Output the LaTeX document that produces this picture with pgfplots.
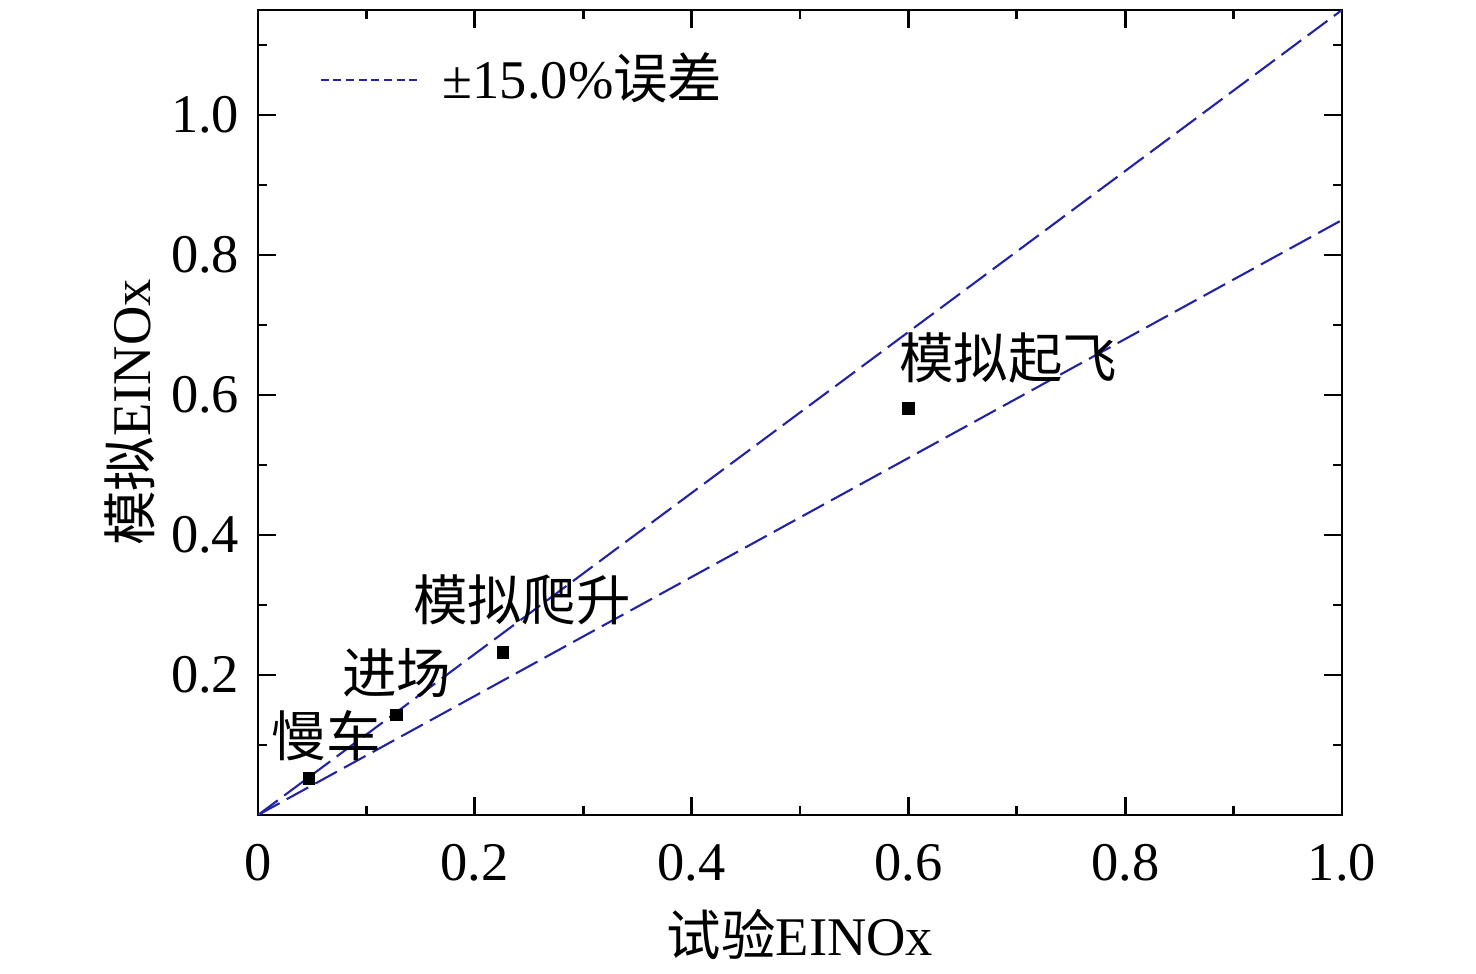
\documentclass[border=0pt]{standalone}
\usepackage{fontspec}
\setmainfont{Liberation Serif}
\newfontfamily\cjk{Noto Sans CJK SC}
\usepackage{pgfplots}
\pgfplotsset{compat=1.18}
\definecolor{lineblue}{RGB}{35,35,165}
\begin{document}
\fontsize{15.5}{18}\selectfont
\begin{tikzpicture}
\path[use as bounding box] (-2.58cm,-1.59cm) rectangle (12.18cm,8.15cm);
\begin{axis}[
  scale only axis,
  width=10.84cm, height=8.05cm,
  xmin=0, xmax=1, ymin=0, ymax=1.15,
  xtick={0,0.2,0.4,0.6,0.8,1.0},
  xticklabels={0,0.2,0.4,0.6,0.8,1.0},
  ytick={0.2,0.4,0.6,0.8,1.0},
  yticklabels={0.2,0.4,0.6,0.8,1.0},
  minor xtick={0.1,0.3,0.5,0.7,0.9},
  minor ytick={0.1,0.3,0.5,0.7,0.9,1.1},
  tick align=inside,
  major tick length=0.18cm,
  minor tick length=0.09cm,
  tick style={black, line width=0.8pt},
  axis line style={line width=0.8pt},
  ticklabel style={font=\fontsize{15.5}{18}\selectfont},
  xticklabel style={yshift=-0.1cm},
  xlabel={{\cjk 试验}EINOx},
  ylabel={{\cjk 模拟}EINOx},
  label style={font=\fontsize{15.5}{18}\selectfont},
  xlabel style={at={(axis description cs:0.5,-0.149)}, anchor=center},
  ylabel style={at={(axis description cs:-0.118,0.5)}, anchor=center},
  legend style={at={(axis description cs:0.0465,0.965)}, anchor=north west, draw=none, fill=white, font=\fontsize{15.5}{18}\selectfont},
  legend image code/.code={\draw[#1, dash pattern=on 2.3pt off 1.3pt] (0cm,0cm) -- (1.0cm,0cm); \path (1.14cm,0cm);},
  clip=true,
]
\addplot[lineblue, line width=0.6pt, dash pattern=on 7pt off 2.3pt] coordinates {(0,0) (1,1.15)};
\addlegendentry{±15.0\%{\cjk 误差}}
\addplot[lineblue, line width=0.6pt, dash pattern=on 7pt off 2.3pt, forget plot] coordinates {(0,0) (1,0.85)};
\addplot[only marks, mark=square*, mark size=1.6pt, black, forget plot] coordinates {
(0.047,0.052) (0.128,0.143) (0.226,0.232) (0.600,0.581)};
\node[font=\cjk\fontsize{15.5}{18}\selectfont] at (axis cs:0.063,0.114) {慢车};
\node[font=\cjk\fontsize{15.5}{18}\selectfont] at (axis cs:0.128,0.203) {进场};
\node[font=\cjk\fontsize{15.5}{18}\selectfont] at (axis cs:0.2435,0.307) {模拟爬升};
\node[font=\cjk\fontsize{15.5}{18}\selectfont] at (axis cs:0.692,0.6535) {模拟起飞};
\end{axis}
\end{tikzpicture}
\end{document}
